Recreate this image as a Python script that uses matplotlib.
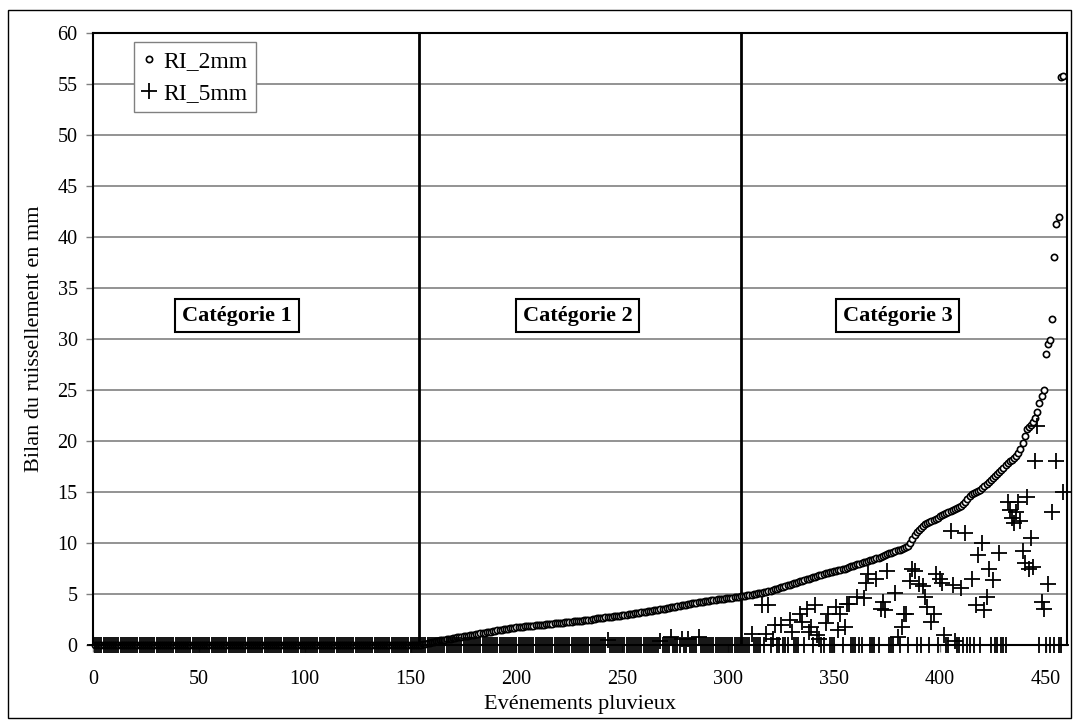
import matplotlib.pyplot as plt
import numpy as np
from matplotlib.lines import Line2D
from matplotlib.patches import Rectangle

plt.rcParams['font.family'] = ['Liberation Serif', 'DejaVu Serif']

# RI_2mm, events sorted ascending: first 155 events are zero
n_zero = 155
ri2_tail = [
    0.05, 0.1, 0.15, 0.2, 0.3, 0.3, 0.35, 0.4, 0.45, 0.5,
    0.5, 0.55, 0.6, 0.6, 0.65, 0.7, 0.75, 0.8, 0.8, 0.85,
    0.9, 0.9, 0.95, 1.0, 1.0, 1.05, 1.1, 1.15, 1.2, 1.2,
    1.25, 1.3, 1.3, 1.35, 1.4, 1.45, 1.5, 1.5, 1.55, 1.6,
    1.6, 1.65, 1.7, 1.7, 1.75, 1.75, 1.8, 1.8, 1.85, 1.85,
    1.9, 1.9, 1.9, 1.95, 1.95, 2.0, 2.0, 2.0, 2.05, 2.05,
    2.1, 2.1, 2.15, 2.15, 2.2, 2.2, 2.2, 2.25, 2.25, 2.3,
    2.3, 2.35, 2.35, 2.4, 2.4, 2.4, 2.45, 2.45, 2.5, 2.5,
    2.55, 2.55, 2.6, 2.6, 2.65, 2.65, 2.7, 2.7, 2.75, 2.75,
    2.8, 2.8, 2.85, 2.85, 2.9, 2.9, 2.95, 3.0, 3.0, 3.05,
    3.1, 3.1, 3.15, 3.2, 3.2, 3.25, 3.3, 3.3, 3.35, 3.4,
    3.4, 3.45, 3.5, 3.5, 3.55, 3.6, 3.65, 3.7, 3.7, 3.75,
    3.8, 3.85, 3.9, 3.9, 3.95, 4.0, 4.05, 4.1, 4.1, 4.15,
    4.2, 4.2, 4.25, 4.3, 4.3, 4.35, 4.4, 4.4, 4.45, 4.5,
    4.5, 4.55, 4.55, 4.6, 4.6, 4.65, 4.65, 4.7, 4.7, 4.75,
    4.8, 4.8, 4.85, 4.9, 4.9, 4.95, 5.0, 5.0, 5.05, 5.1,
    5.1, 5.15, 5.2, 5.25, 5.3, 5.4, 5.45, 5.5, 5.6, 5.65,
    5.7, 5.8, 5.85, 5.9, 6.0, 6.05, 6.1, 6.2, 6.25, 6.3,
    6.4, 6.45, 6.5, 6.6, 6.65, 6.7, 6.8, 6.85, 6.9, 7.0,
    7.05, 7.1, 7.15, 7.2, 7.25, 7.3, 7.35, 7.4, 7.45, 7.5,
    7.55, 7.6, 7.7, 7.75, 7.8, 7.9, 7.95, 8.0, 8.1, 8.15,
    8.2, 8.3, 8.35, 8.4, 8.5, 8.55, 8.6, 8.7, 8.8, 8.9,
    9.0, 9.05, 9.1, 9.2, 9.3, 9.35, 9.4, 9.5, 9.6, 9.7,
    10.0, 10.4, 10.8, 11.1, 11.3, 11.5, 11.7, 11.9, 12.0, 12.1,
    12.2, 12.3, 12.4, 12.5, 12.6, 12.7, 12.8, 12.9, 13.0, 13.1,
    13.2, 13.3, 13.4, 13.5, 13.6, 13.8, 14.0, 14.3, 14.6, 14.8,
    14.9, 15.0, 15.1, 15.2, 15.4, 15.6, 15.8, 16.0, 16.2, 16.4,
    16.6, 16.8, 17.0, 17.2, 17.4, 17.6, 17.8, 18.0, 18.1, 18.3,
    18.5, 18.8, 19.2, 19.8, 20.5, 21.2, 21.4, 21.6, 21.9, 22.3,
    22.8, 23.7, 24.4, 25.0, 28.5, 29.5, 29.9, 32.0, 38.0, 41.3,
    42.0, 55.7, 55.8,
]

# RI_5mm: non-zero events (event number, value); all others are zero
ri5_event = [243, 268, 273, 278, 281, 286,
             311, 316, 318, 319, 321, 322, 325, 329, 330, 334,
             335, 337, 338, 339, 341, 342, 343, 346, 347, 351,
             352, 353, 355, 356, 357, 361, 364, 365, 366, 370,
             372, 373, 374, 375, 379, 380, 382, 383, 384, 386,
             387, 388, 390, 392, 393, 394, 396, 397, 398, 400,
             401, 402, 405, 406, 407, 410, 412, 415, 417, 418,
             420, 421, 422, 423, 425, 428, 432, 433, 434, 435,
             436, 437, 438, 439, 440, 441, 442, 443, 444, 445,
             446, 448, 449, 451, 453, 455, 458]
ri5_value = [0.5, 0.4, 0.8, 0.6, 0.6, 0.8,
             1.1, 3.9, 1.1, 3.9, 0.6, 2.0, 2.0, 2.5, 1.3, 3.0,
             2.3, 3.5, 1.3, 1.8, 3.9, 1.0, 0.6, 2.2, 3.0, 3.7,
             1.5, 3.0, 1.8, 4.0, 4.0, 4.7, 4.6, 6.1, 7.0, 6.5,
             3.5, 4.2, 3.4, 7.3, 5.1, 0.8, 1.8, 3.0, 3.0, 6.3,
             7.5, 7.3, 6.0, 5.8, 4.7, 3.7, 2.3, 3.0, 7.0, 6.5,
             6.1, 1.0, 11.2, 5.9, 0.4, 5.6, 11.0, 6.5, 3.9, 8.8,
             10.0, 3.4, 4.7, 7.5, 6.4, 9.0, 14.0, 13.2, 12.5, 12.0,
             13.0, 14.0, 12.2, 9.2, 8.0, 14.5, 7.5, 10.5, 7.6, 18.0,
             21.5, 4.2, 3.5, 6.0, 13.0, 18.0, 15.0]

cat_bounds = [154, 306]
cat_labels = ['Catégorie 1', 'Catégorie 2', 'Catégorie 3']
cat_centers = [68, 229, 380]

ri2 = np.array([0.0] * n_zero + ri2_tail)
events = np.arange(1, len(ri2) + 1)
ri5 = np.zeros(len(ri2))
ri5[np.array(ri5_event) - 1] = ri5_value

fig = plt.figure(figsize=(10.79, 7.24), dpi=100)
ax = fig.add_axes([93 / 1079, 1 - 645 / 724, 974 / 1079, 612 / 724])

fig.patches.append(Rectangle((8 / 1079, 6 / 724), 1063 / 1079, 708 / 724,
                             transform=fig.transFigure, fill=False,
                             edgecolor='black', linewidth=1.0))

ax.plot(events, ri2, linestyle='none', marker='o', markersize=4.5,
        markerfacecolor='white', markeredgecolor='black', markeredgewidth=1.2,
        clip_on=False, zorder=3)
ax.plot(events, ri5, linestyle='none', marker='+', markersize=11,
        color='black', markeredgewidth=1.3, clip_on=False, zorder=4)

for xb in cat_bounds:
    ax.axvline(xb, color='black', linewidth=2, zorder=2)

for xc, lab in zip(cat_centers, cat_labels):
    ax.text(xc, 32.3, lab, ha='center', va='center', fontsize=16,
            fontweight='bold',
            bbox=dict(boxstyle='square,pad=0.3', facecolor='white',
                      edgecolor='black', linewidth=1.5), zorder=5)

ax.set_xlim(0, 460)
ax.set_ylim(0, 60)
ax.set_xticks(range(0, 451, 50))
ax.set_yticks(range(0, 61, 5))
ax.yaxis.grid(True, color='#808080', linewidth=1.2)
ax.set_axisbelow(True)
ax.tick_params(axis='both', labelsize=14.5, direction='out', length=5,
               width=1, color='#808080')
ax.tick_params(axis='x', pad=13)
ax.tick_params(axis='y', pad=6)
for sp in ax.spines.values():
    sp.set_linewidth(1.5)
    sp.set_color('black')

ax.set_xlabel('Evénements pluvieux', fontsize=16, labelpad=4)
ax.set_ylabel('Bilan du ruissellement en mm', fontsize=16, labelpad=10)

handles = [Line2D([], [], linestyle='none', marker='o', markersize=4.5,
                  markerfacecolor='white', markeredgecolor='black',
                  markeredgewidth=1.2),
           Line2D([], [], linestyle='none', marker='+', markersize=11,
                  color='black', markeredgewidth=1.3)]
leg = ax.legend(handles, ['RI_2mm', 'RI_5mm'], loc='upper left',
                bbox_to_anchor=(0.042, 0.985), fontsize=17, frameon=True,
                fancybox=False, edgecolor='#808080', framealpha=1,
                handlelength=0.6, handletextpad=0.3, borderpad=0.35,
                labelspacing=0.45, borderaxespad=0)
leg.get_frame().set_linewidth(1)

fig.savefig('out.png', dpi=100)
